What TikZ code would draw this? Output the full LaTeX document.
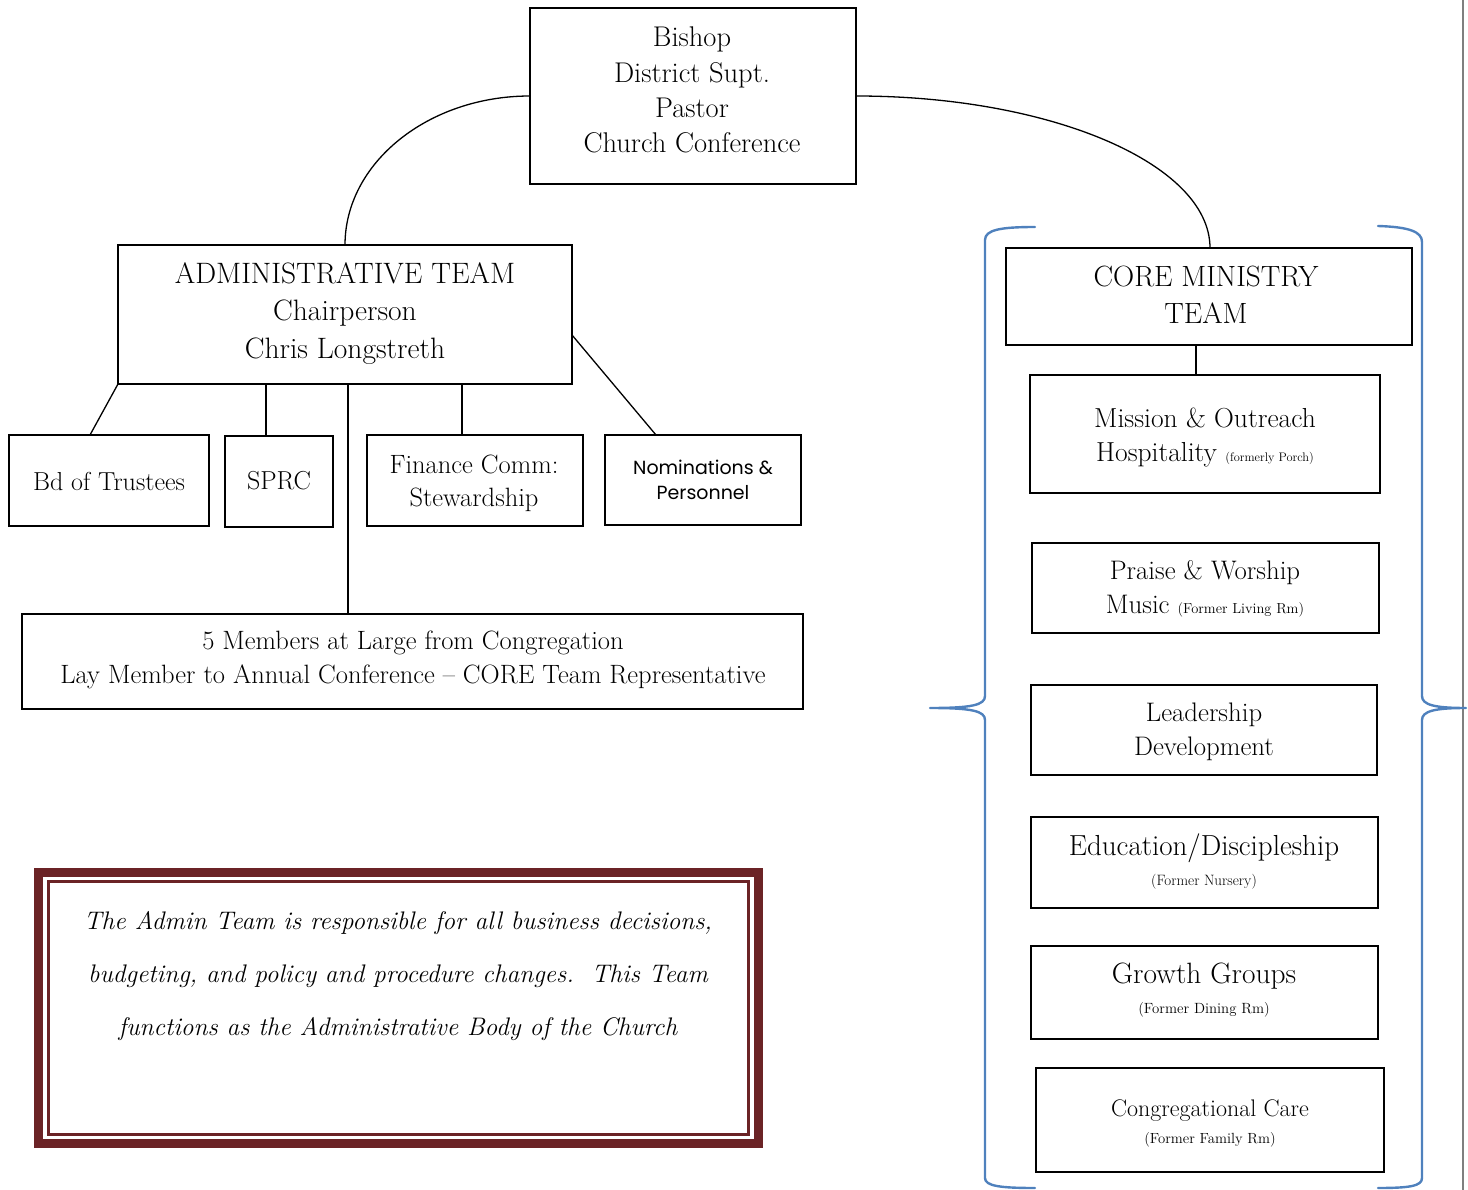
\documentclass[tikz,border=0pt]{standalone}
\usepackage{fontspec}
\newfontfamily\gothic{Poppins}
\definecolor{bracecol}{HTML}{4F81BD}
\definecolor{maroon}{HTML}{6B2326}
\definecolor{pagegray}{HTML}{7F7F7F}
\tikzset{
  box/.style={draw=black, line width=1.3pt, inner sep=0pt, outer sep=0pt, fill=white},
  txt/.style={align=center, inner sep=0pt, text=black},
  conn/.style={draw=black, line width=1.3pt},
  bracestyle/.style={draw=bracecol, line width=2.4pt, line cap=round, line join=round},
}
\newcommand{\fs}[2]{\fontsize{#1}{#2}\selectfont}
\begin{document}
\begin{tikzpicture}[x=1pt, y=-1pt]
\useasboundingbox (0,0) rectangle (1468,1190);
% page edge line
\coordinate (pgtop) at (1462.5,0);
\coordinate (pgbot) at (1462.5,1190);
\draw[pagegray, line width=2pt] (pgtop) -- (pgbot);

% top box
\node[box, minimum width=326pt, minimum height=176pt] (top) at (693,96) {};
\node[txt, font=\fs{28.5}{35.3}] (toptext) at (692,90) {Bishop\\District Supt.\\Pastor\\Church Conference};

% admin box
\node[box, minimum width=454pt, minimum height=139pt] (admin) at (345,314.5) {};
\node[txt, font=\fs{29.5}{37.5}] (admintext) at (345,313.5) {ADMINISTRATIVE TEAM\\Chairperson\\Chris Longstreth};

% core box
\node[box, minimum width=406pt, minimum height=97pt] (core) at (1209,296.5) {};
\node[txt, font=\fs{29.3}{37}] (coretext) at (1206,295) {CORE MINISTRY\\TEAM};

% small boxes under admin
\node[box, minimum width=200pt, minimum height=91pt] (trustees) at (109,480.5) {};
\node[txt, font=\fs{26}{30}] (trusteestext) at (109,481) {Bd of Trustees};
\node[box, minimum width=108pt, minimum height=91pt] (sprc) at (279,481.5) {};
\node[txt, font=\fs{26}{30}] (sprctext) at (279,481) {SPRC};
\node[box, minimum width=216pt, minimum height=91pt] (finance) at (475,480.5) {};
\node[txt, font=\fs{26.5}{33}] (financetext) at (474,483) {Finance Comm:\\Stewardship};
\node[box, minimum width=196pt, minimum height=90pt] (nom) at (703,480) {};
\node[txt, font=\gothic\fs{19}{24.5}] (nomtext) at (703,480) {Nominations \&\\Personnel};

% members box
\node[box, minimum width=781pt, minimum height=95pt] (members) at (412.5,661.5) {};
\node[txt, font=\fs{26.5}{34}] (memberstext) at (413,660) {5 Members at Large from Congregation\\Lay Member to Annual Conference -- CORE Team Representative};

% core ministry boxes
\node[box, minimum width=350pt, minimum height=118pt] (mission) at (1205,434) {};
\node[txt, font=\fs{27.5}{34}] (missiontext) at (1205,437.5) {Mission \& Outreach\\Hospitality {\fs{12.4}{13}(formerly Porch)}};
\node[box, minimum width=347pt, minimum height=90pt] (praise) at (1205.5,588) {};
\node[txt, font=\fs{26.8}{34}] (praisetext) at (1205,589) {Praise \& Worship\\Music {\fs{14.5}{15}(Former Living Rm)}};
\node[box, minimum width=346pt, minimum height=90pt] (lead) at (1204,730) {};
\node[txt, font=\fs{26.8}{34}] (leadtext) at (1204,731.5) {Leadership\\Development};
\node[box, minimum width=347pt, minimum height=91pt] (edu) at (1204.5,862.5) {};
\node[txt, font=\fs{29}{30}] (edutext) at (1204,862) {Education/Discipleship\\{\fs{15}{16}(Former Nursery)}};
\node[box, minimum width=347pt, minimum height=93pt] (growth) at (1204.5,992.5) {};
\node[txt, font=\fs{29.4}{30}] (growthtext) at (1204,990.5) {Growth Groups\\{\fs{14.8}{16}(Former Dining Rm)}};
\node[box, minimum width=348pt, minimum height=104pt] (care) at (1210,1120) {};
\node[txt, font=\fs{24}{27}] (caretext) at (1210,1123.5) {Congregational Care\\{\fs{14.7}{16}(Former Family Rm)}};

% connectors
\draw[conn] (top.west) .. controls (428,96) and (345,163) .. (admin.north);
\draw[conn] (top.east) .. controls (1051,96) and (1210,164) .. (core.north -| 1210,0);
\draw[conn] (admin.south west) -- (trustees.north -| 90,0);
\draw[conn] (admin.south -| 266,0) -- (sprc.north -| 266,0);
\draw[conn] (admin.south -| 348,0) -- (members.north -| 348,0);
\draw[conn] (admin.south -| 462,0) -- (finance.north -| 462,0);
\draw[conn] (admin.east |- 0,335) -- (nom.north -| 656,0);
\draw[conn] (core.south -| 1196,0) -- (mission.north -| 1196,0);

% admin note box
\node[draw=maroon, line width=9pt, minimum width=720pt, minimum height=271pt, inner sep=0pt] (note) at (398.5,1008) {};
\node[draw=maroon, line width=3pt, minimum width=700pt, minimum height=253pt, inner sep=0pt] (noteinner) at (398.5,1008) {};
\node[txt, font=\itshape\fs{25.4}{53}] (notetext) at (398,976) {The Admin Team is responsible for all business decisions,\\budgeting, and policy and procedure changes.\ \ This Team\\functions as the Administrative Body of the Church};

% braces
\draw[bracestyle] (1035,227) .. controls (1000,227) and (985,230) .. (985,240)
  -- (985,696) .. controls (985,705) and (972,708) .. (930,708)
  .. controls (972,708) and (985,711) .. (985,720)
  -- (985,1178) .. controls (985,1186) and (1000,1188) .. (1035,1188);
\draw[bracestyle] (1378,226) .. controls (1410,227) and (1422,232) .. (1422,242)
  -- (1422,696) .. controls (1422,705) and (1435,708) .. (1466,708)
  .. controls (1435,708) and (1422,711) .. (1422,720)
  -- (1422,1178) .. controls (1422,1186) and (1410,1188) .. (1378,1188);
\end{tikzpicture}
\end{document}
